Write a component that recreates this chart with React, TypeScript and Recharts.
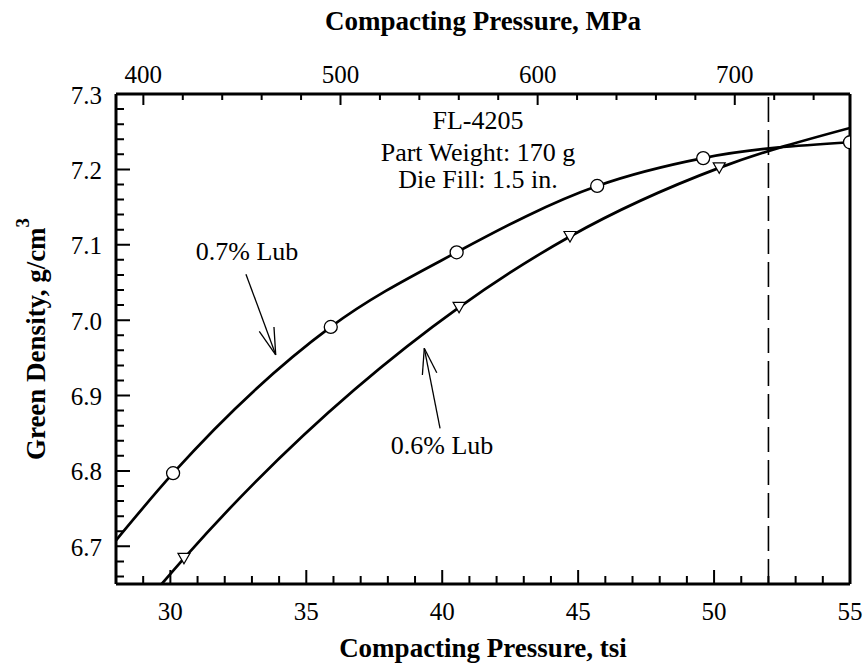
import React from "react";
import {
  ComposedChart,
  Line,
  Scatter,
  XAxis,
  YAxis,
  ReferenceLine,
} from "recharts";

// ---- data (tsi, g/cm3) ----
const lub07Curve = [
  { x: 28.0, y: 6.708 },
  { x: 30.1, y: 6.797 },
  { x: 35.9, y: 6.991 },
  { x: 40.53, y: 7.09 },
  { x: 45.7, y: 7.178 },
  { x: 49.6, y: 7.215 },
  { x: 55.0, y: 7.236 },
];
const lub07Markers = [
  { x: 30.1, y: 6.797 },
  { x: 35.9, y: 6.991 },
  { x: 40.53, y: 7.09 },
  { x: 45.7, y: 7.178 },
  { x: 49.6, y: 7.215 },
  { x: 55.0, y: 7.236 },
];
const lub06Curve = [
  { x: 29.68, y: 6.65 },
  { x: 30.5, y: 6.684 },
  { x: 40.62, y: 7.017 },
  { x: 44.7, y: 7.111 },
  { x: 50.19, y: 7.202 },
  { x: 55.0, y: 7.255 },
];
const lub06Markers = [
  { x: 30.5, y: 6.684 },
  { x: 40.62, y: 7.017 },
  { x: 44.7, y: 7.111 },
  { x: 50.19, y: 7.202 },
];

const TSI_DOMAIN = [28, 55];
const DENSITY_DOMAIN = [6.65, 7.3];
const MPA_PER_TSI = 13.79;
const MPA_DOMAIN = [TSI_DOMAIN[0] * MPA_PER_TSI, TSI_DOMAIN[1] * MPA_PER_TSI];
const TSI_MAJOR = [30, 35, 40, 45, 50, 55];
const MPA_MAJOR = [400, 500, 600, 700];
const DENSITY_MAJOR = [6.7, 6.8, 6.9, 7.0, 7.1, 7.2, 7.3];
const LIMIT_TSI = 52;

const tsiTicks = Array.from({ length: 26 }, (_, i) => 29 + i);
const mpaTicks = Array.from({ length: 18 }, (_, i) => 400 + 20 * i);
const densityTicks = Array.from({ length: 32 }, (_, i) => (666 + 2 * i) / 100);

// layout
const W = 864;
const H = 666;
const MARGIN = { top: 54, right: 14, bottom: 42, left: 56 };
const X_AXIS_H = 40;
const Y_AXIS_W = 60;
const PLOT_L = MARGIN.left + Y_AXIS_W;
const PLOT_T = MARGIN.top + X_AXIS_H;
const PLOT_W = W - MARGIN.left - MARGIN.right - Y_AXIS_W;
const PLOT_H = H - MARGIN.top - MARGIN.bottom - 2 * X_AXIS_H;
const PLOT_B = PLOT_T + PLOT_H;

// linear maps used only for the inward tick marks (same domain as the axes)
const tsiPx = (t: number) => PLOT_L + ((t - TSI_DOMAIN[0]) / (TSI_DOMAIN[1] - TSI_DOMAIN[0])) * PLOT_W;
const denPx = (d: number) => PLOT_B - ((d - DENSITY_DOMAIN[0]) / (DENSITY_DOMAIN[1] - DENSITY_DOMAIN[0])) * PLOT_H;

// invisible anchor so the top axis gets a domain (domain corners)
const mpaCorners = [
  { x: MPA_DOMAIN[0], y: DENSITY_DOMAIN[0] },
  { x: MPA_DOMAIN[1], y: DENSITY_DOMAIN[1] },
];

const FONT = "Liberation Serif, Times New Roman, serif";

const isMajor = (v: number, list: number[]) =>
  list.some((m) => Math.abs(m - v) < 1e-6);

const tickPath = [
  ...tsiTicks.map((t) => `M${tsiPx(t)},${PLOT_B}V${PLOT_B - (isMajor(t, TSI_MAJOR) ? 14 : 8)}`),
  ...mpaTicks.map(
    (m) => `M${tsiPx(m / MPA_PER_TSI)},${PLOT_T}V${PLOT_T + (isMajor(m, MPA_MAJOR) ? 11 : 6)}`
  ),
  ...densityTicks.map((d) => `M${PLOT_L},${denPx(d)}H${PLOT_L + (isMajor(d, DENSITY_MAJOR) ? 14 : 8)}`),
].join(" ");

const BottomLabel = (props: any) => {
  const { x, y, payload } = props;
  return (
    <text x={x} y={y + 36} textAnchor="middle" fontSize={25} fill="#000" fontFamily={FONT}>
      {payload.value}
    </text>
  );
};

const TopLabel = (props: any) => {
  const { x, y, payload } = props;
  return (
    <text x={x} y={y - 11.5} textAnchor="middle" fontSize={25} fill="#000" fontFamily={FONT}>
      {payload.value}
    </text>
  );
};

const LeftLabel = (props: any) => {
  const { x, y, payload } = props;
  return (
    <text x={x - 14} y={y + 9.5} textAnchor="end" fontSize={25} fill="#000" fontFamily={FONT}>
      {Number(payload.value).toFixed(1)}
    </text>
  );
};

const CircleMark = (props: any) => {
  const { cx, cy } = props;
  return <circle cx={cx} cy={cy} r={6.5} fill="#fff" stroke="#000" strokeWidth={1.3} />;
};

const TriMark = (props: any) => {
  const { cx, cy } = props;
  return (
    <polygon
      points={`${cx - 6},${cy - 5} ${cx + 6},${cy - 5} ${cx},${cy + 5.5}`}
      fill="#fff"
      stroke="#000"
      strokeWidth={1.2}
    />
  );
};

const seg = (a: { x: number; y: number }, b: { x: number; y: number }, key: string, w = 1.3) => (
  <ReferenceLine
    key={key}
    xAxisId="tsi"
    yAxisId="d"
    segment={[a, b]}
    stroke="#000"
    strokeWidth={w}
    ifOverflow="visible"
  />
);

const arrow = (
  tail: { x: number; y: number },
  tip: { x: number; y: number },
  b1: { x: number; y: number },
  b2: { x: number; y: number },
  key: string
) => [seg(tail, tip, key + "s"), seg(b1, tip, key + "a"), seg(b2, tip, key + "b")];

export default function App() {
  return (
    <div style={{ position: "absolute", left: 0, top: 0, fontFamily: FONT }}>
      <ComposedChart width={W} height={H} margin={MARGIN} style={{ fontFamily: FONT }}>
        <XAxis
          xAxisId="tsi"
          dataKey="x"
          type="number"
          domain={TSI_DOMAIN}
          ticks={TSI_MAJOR}
          interval={0}
          height={X_AXIS_H}
          tickSize={0}
          tickMargin={0}
          axisLine={{ stroke: "#000", strokeWidth: 3 }}
          tickLine={false}
          tick={<BottomLabel />}
          allowDataOverflow
        />
        <XAxis
          xAxisId="mpa"
          orientation="top"
          dataKey="x"
          type="number"
          domain={MPA_DOMAIN}
          ticks={MPA_MAJOR}
          interval={0}
          height={X_AXIS_H}
          tickSize={0}
          tickMargin={0}
          axisLine={{ stroke: "#000", strokeWidth: 3 }}
          tickLine={false}
          tick={<TopLabel />}
          allowDataOverflow
        />
        <YAxis
          yAxisId="d"
          dataKey="y"
          type="number"
          domain={DENSITY_DOMAIN}
          ticks={DENSITY_MAJOR}
          interval={0}
          width={Y_AXIS_W}
          tickSize={0}
          tickMargin={0}
          axisLine={{ stroke: "#000", strokeWidth: 3 }}
          tickLine={false}
          tick={<LeftLabel />}
          allowDataOverflow
        />

        <Line xAxisId="mpa" yAxisId="d" data={mpaCorners} dataKey="y" stroke="none" dot={false} activeDot={false} isAnimationActive={false} />

        <ReferenceLine xAxisId="tsi" yAxisId="d" x={TSI_DOMAIN[1]} stroke="#000" strokeWidth={3} ifOverflow="visible" />
        <ReferenceLine
          xAxisId="tsi"
          yAxisId="d"
          x={LIMIT_TSI}
          stroke="#000"
          strokeWidth={1.6}
          strokeDasharray="25 8"
        />
        {arrow({ x: 32.78, y: 7.061 }, { x: 33.875, y: 6.954 }, { x: 33.27, y: 6.985 }, { x: 33.81, y: 6.991 }, "a07")}
        {arrow({ x: 39.92, y: 6.8565 }, { x: 39.34, y: 6.9627 }, { x: 39.27, y: 6.9272 }, { x: 39.8, y: 6.9303 }, "a06")}
        <Line
          xAxisId="tsi"
          yAxisId="d"
          data={lub07Curve}
          dataKey="y"
          type="monotone"
          stroke="#000"
          strokeWidth={2.7}
          dot={false}
          activeDot={false}
          isAnimationActive={false}
        />
        <Line
          xAxisId="tsi"
          yAxisId="d"
          data={lub06Curve}
          dataKey="y"
          type="monotone"
          stroke="#000"
          strokeWidth={2.7}
          dot={false}
          activeDot={false}
          isAnimationActive={false}
        />
        <Scatter
          xAxisId="tsi"
          yAxisId="d"
          data={lub07Markers}
          dataKey="y"
          shape={<CircleMark />}
          isAnimationActive={false}
        />
        <Scatter
          xAxisId="tsi"
          yAxisId="d"
          data={lub06Markers}
          dataKey="y"
          shape={<TriMark />}
          isAnimationActive={false}
        />
        <path d={tickPath} stroke="#000" strokeWidth={2} fill="none" />
        <text x={483} y={30} textAnchor="middle" fontSize={27} fontWeight="bold" fill="#000" fontFamily={FONT}>
          Compacting Pressure, MPa
        </text>
        <text x={483} y={657} textAnchor="middle" fontSize={27} fontWeight="bold" fill="#000" fontFamily={FONT}>
          Compacting Pressure, tsi
        </text>
        <text
          x={45}
          y={339}
          transform="rotate(-90, 45, 339)"
          textAnchor="middle"
          fontSize={27}
          fontWeight="bold"
          fill="#000"
          fontFamily={FONT}
        >
          Green Density, g/cm
          <tspan fontSize={19} dy={-16}>3</tspan>
        </text>
        <g fontFamily={FONT} fontSize={26} fill="#000" textAnchor="middle">
          <text x={478} y={129}>FL-4205</text>
          <text x={478} y={161}>Part Weight: 170 g</text>
          <text x={478} y={188}>Die Fill: 1.5 in.</text>
          <text x={247} y={260}>0.7% Lub</text>
          <text x={442} y={454}>0.6% Lub</text>
        </g>
      </ComposedChart>
    </div>
  );
}
